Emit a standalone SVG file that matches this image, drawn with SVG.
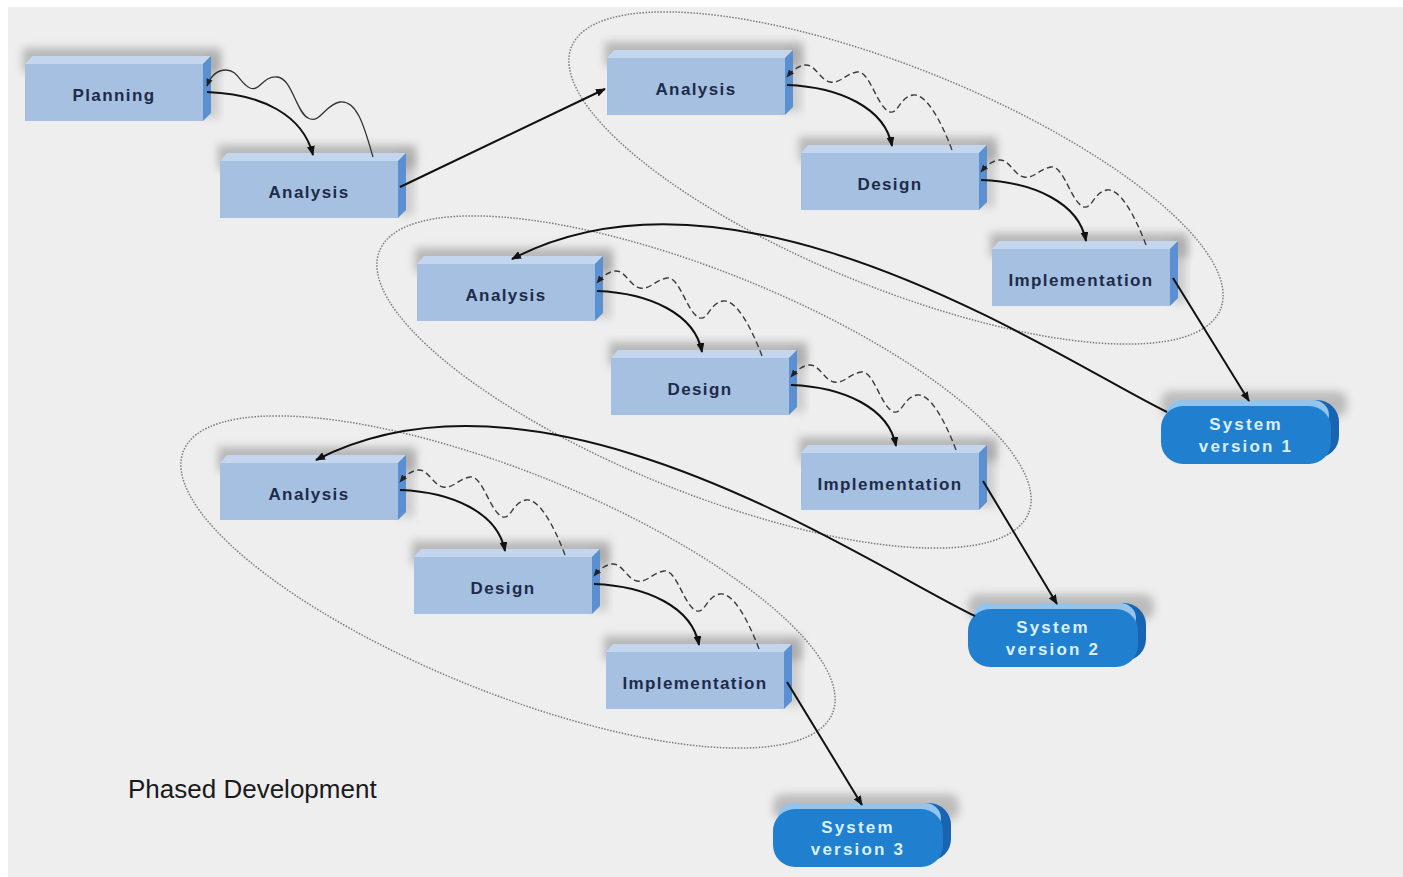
<svg xmlns="http://www.w3.org/2000/svg" width="1403" height="877" viewBox="0 0 1403 877">
<style>
.lbl{font-family:"Liberation Sans",Arial,sans-serif;font-weight:bold;font-size:17px;fill:#1d2b48;text-anchor:middle;letter-spacing:1.4px}
.sys{font-family:"Liberation Sans",Arial,sans-serif;font-weight:bold;font-size:17px;fill:#dcefff;text-anchor:middle;letter-spacing:2.2px}
.solid{fill:none;stroke:#111;stroke-width:2;marker-end:url(#ah)}
.line{fill:none;stroke:#111;stroke-width:2;marker-end:url(#ah)}
.wave{fill:none;stroke:#3a3a3a;stroke-width:1.4;stroke-dasharray:6 3.5;marker-end:url(#ahs)}
.wavesolid{fill:none;stroke:#333;stroke-width:1.3;marker-end:url(#ahs)}
.ell{fill:none;stroke:#7a7a7a;stroke-width:1.5;stroke-dasharray:1.5 1.5}
.title{font-family:"Liberation Sans",Arial,sans-serif;font-size:26px;fill:#1a1a1a}
</style>
<defs>
<filter id="blur" x="-30%" y="-80%" width="160%" height="260%"><feGaussianBlur stdDeviation="4"/></filter>
<marker id="ah" viewBox="0 0 10 8" refX="9" refY="4" markerWidth="10" markerHeight="8" markerUnits="userSpaceOnUse" orient="auto"><path d="M0,0 L10,4 L0,8 z" fill="#111"/></marker>
<marker id="ahs" viewBox="0 0 10 8" refX="9" refY="4" markerWidth="8" markerHeight="6.5" markerUnits="userSpaceOnUse" orient="auto"><path d="M0,0 L10,4 L0,8 z" fill="#222"/></marker>
<g id="box">
 <rect x="-2" y="-16" width="198" height="24" fill="#8a8a8a" opacity="0.55" filter="url(#blur)"/>
 <rect x="178" y="-8" width="16" height="62" fill="#999" opacity="0.4" filter="url(#blur)"/>
 <polygon points="0,0 7,-8 186,-8 178,0" fill="#c4d6ee"/>
 <polygon points="178,0 186,-8 186,49 178,57" fill="#5a90d2"/>
 <rect x="0" y="0" width="178" height="57" fill="#a6c0e2"/>
</g>
<g id="pill">
 <rect x="0" y="-15" width="186" height="26" rx="10" fill="#8a8a8a" opacity="0.5" filter="url(#blur)"/>
 <rect x="8" y="-6" width="170" height="58" rx="22" fill="#1664b2"/>
 <rect x="5" y="-6" width="163" height="30" rx="16" fill="#93c4ee"/>
 <rect x="0" y="0" width="170" height="58" rx="22" fill="#2080cf"/>
</g>
</defs>

<rect x="0" y="0" width="1403" height="877" fill="#ffffff"/>
<rect x="8" y="7" width="1395" height="870" fill="#eeeeee"/>

<g id="groups">
 <ellipse class="ell" cx="896" cy="178" rx="350" ry="110" transform="rotate(22 896 178)"/>
 <ellipse class="ell" cx="704" cy="382" rx="350" ry="110" transform="rotate(22 704 382)"/>
 <ellipse class="ell" cx="508" cy="582" rx="350" ry="110" transform="rotate(22 508 582)"/>
</g>

<g id="n-planning"><use href="#box" x="25" y="64"/><text class="lbl" x="114" y="101">Planning</text></g>
<g id="n-analysis1"><use href="#box" x="220" y="161"/><text class="lbl" x="309" y="198">Analysis</text></g>
<g id="n-analysis2"><use href="#box" x="607" y="58"/><text class="lbl" x="696" y="95">Analysis</text></g>
<g id="n-design2"><use href="#box" x="801" y="153"/><text class="lbl" x="890" y="190">Design</text></g>
<g id="n-impl2"><use href="#box" x="992" y="249"/><text class="lbl" x="1081" y="286">Implementation</text></g>
<g id="n-analysis3"><use href="#box" x="417" y="264"/><text class="lbl" x="506" y="301">Analysis</text></g>
<g id="n-design3"><use href="#box" x="611" y="358"/><text class="lbl" x="700" y="395">Design</text></g>
<g id="n-impl3"><use href="#box" x="801" y="453"/><text class="lbl" x="890" y="490">Implementation</text></g>
<g id="n-analysis4"><use href="#box" x="220" y="463"/><text class="lbl" x="309" y="500">Analysis</text></g>
<g id="n-design4"><use href="#box" x="414" y="557"/><text class="lbl" x="503" y="594">Design</text></g>
<g id="n-impl4"><use href="#box" x="606" y="652"/><text class="lbl" x="695" y="689">Implementation</text></g>

<g id="n-sys1"><use href="#pill" x="1161" y="406"/><text class="sys" x="1246" y="430">System</text><text class="sys" x="1246" y="452">version 1</text></g>
<g id="n-sys2"><use href="#pill" x="968" y="609"/><text class="sys" x="1053" y="633">System</text><text class="sys" x="1053" y="655">version 2</text></g>
<g id="n-sys3"><use href="#pill" x="773" y="809"/><text class="sys" x="858" y="833">System</text><text class="sys" x="858" y="855">version 3</text></g>

<g id="connectors">
 <path class="solid" d="M207,92 C262,94 303,115 313,155"/>
 <path class="wavesolid" d="M373,157 C365,130 358,100 340,102 C325,104 320,125 308,118 C296,112 292,78 277,77 C262,76 260,92 250,88 C240,84 238,70 226,70 C215,70 210,78 207,86"/>
 <path class="line" d="M400,187 L605,89"/>
 <g transform="translate(785,58)">
  <path class="solid" d="M2,27 C55,29 100,50 107,88"/>
  <path class="wave" d="M167,92 C155,60 140,35 128,37 C115,39 113,56 105,54 C92,50 85,12 72,14 C60,16 55,26 45,24 C35,22 30,6 20,7 C12,8 6,14 2,19"/>
 </g>
 <g transform="translate(979,153)">
  <path class="solid" d="M2,27 C55,29 100,50 107,88"/>
  <path class="wave" d="M167,92 C155,60 140,35 128,37 C115,39 113,56 105,54 C92,50 85,12 72,14 C60,16 55,26 45,24 C35,22 30,6 20,7 C12,8 6,14 2,19"/>
 </g>
 <g transform="translate(595,264)">
  <path class="solid" d="M2,27 C55,29 100,50 107,88"/>
  <path class="wave" d="M167,92 C155,60 140,35 128,37 C115,39 113,56 105,54 C92,50 85,12 72,14 C60,16 55,26 45,24 C35,22 30,6 20,7 C12,8 6,14 2,19"/>
 </g>
 <g transform="translate(789,358)">
  <path class="solid" d="M2,27 C55,29 100,50 107,88"/>
  <path class="wave" d="M167,92 C155,60 140,35 128,37 C115,39 113,56 105,54 C92,50 85,12 72,14 C60,16 55,26 45,24 C35,22 30,6 20,7 C12,8 6,14 2,19"/>
 </g>
 <g transform="translate(398,463)">
  <path class="solid" d="M2,27 C55,29 100,50 107,88"/>
  <path class="wave" d="M167,92 C155,60 140,35 128,37 C115,39 113,56 105,54 C92,50 85,12 72,14 C60,16 55,26 45,24 C35,22 30,6 20,7 C12,8 6,14 2,19"/>
 </g>
 <g transform="translate(592,557)">
  <path class="solid" d="M2,27 C55,29 100,50 107,88"/>
  <path class="wave" d="M167,92 C155,60 140,35 128,37 C115,39 113,56 105,54 C92,50 85,12 72,14 C60,16 55,26 45,24 C35,22 30,6 20,7 C12,8 6,14 2,19"/>
 </g>
 <path class="line" d="M1173,278 L1249,401"/>
 <path class="line" d="M983,481 L1057,604"/>
 <path class="line" d="M787,682 L862,805"/>
 <path class="solid" d="M1167,412 C1060,360 740,140 512,259"/>
 <path class="solid" d="M975,616 C868,565 545,342 316,460"/>
</g>

<text class="title" x="128" y="798">Phased Development</text>
</svg>
